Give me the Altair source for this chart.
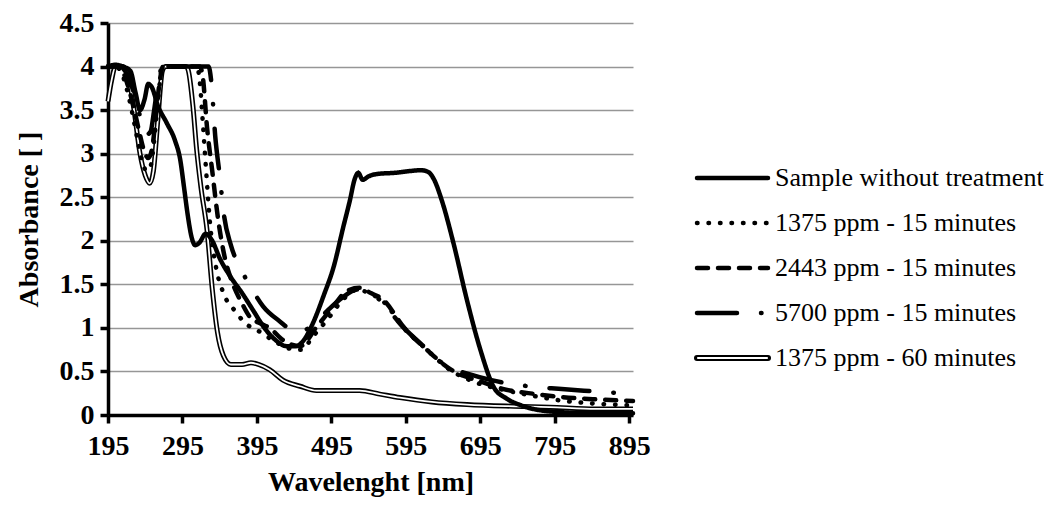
import altair as alt
import pandas as pd

series_names = [
    "Sample without treatment",
    "1375 ppm - 15 minutes",
    "2443 ppm - 15 minutes",
    "5700 ppm - 15 minutes",
    "1375 ppm - 60 minutes",
]

x_ticks = [195, 295, 395, 495, 595, 695, 795, 895]
y_ticks = [0, 0.5, 1, 1.5, 2, 2.5, 3, 3.5, 4, 4.5]

# Sample without treatment
nm_untreated = [195, 205, 215, 225, 232, 238, 244, 249, 254, 262, 274, 285, 292, 297, 302, 307, 312, 318,
                326, 335, 345, 360, 375, 390, 405, 420, 435, 447, 458, 470, 485, 498, 511, 520, 526, 531,
                537, 545, 560, 580, 600, 615, 625, 633, 643, 659, 677, 695, 713, 730, 750, 790, 850, 900]
abs_untreated = [4.0, 4.02, 4.0, 3.95, 3.7, 3.5, 3.62, 3.8, 3.76, 3.55, 3.35, 3.15, 2.93, 2.62, 2.3, 2.05,
                 1.95, 1.98, 2.08, 2.0, 1.8, 1.58, 1.4, 1.2, 1.0, 0.86, 0.79, 0.79, 0.86, 1.05, 1.38, 1.7,
                 2.16, 2.47, 2.7, 2.78, 2.7, 2.74, 2.77, 2.78, 2.8, 2.81, 2.79, 2.7, 2.47, 1.97, 1.32, 0.75,
                 0.32, 0.19, 0.11, 0.04, 0.02, 0.02]

# 1375 ppm - 15 minutes
nm_1375_15 = [195, 205, 212, 220, 228, 236, 242, 247, 252, 257, 262, 267, 272, 290, 314, 318, 322, 326, 332,
              340, 350, 365, 380, 400, 420, 440, 455, 470, 490, 510, 530, 545, 565, 592, 623, 654, 690, 720,
              760, 800, 850, 900]
abs_1375_15 = [4.0, 4.0, 3.95, 3.75, 3.45, 3.1, 2.88, 2.8, 2.85, 3.15, 3.6, 3.95, 4.0, 4.0, 4.0, 3.85, 3.4,
               2.9, 2.2, 1.7, 1.4, 1.2, 1.05, 0.95, 0.84, 0.76, 0.75, 0.9, 1.1, 1.32, 1.44, 1.4, 1.3, 1.0,
               0.75, 0.52, 0.37, 0.3, 0.23, 0.17, 0.13, 0.11]

# 2443 ppm - 15 minutes
nm_2443_15 = [195, 205, 213, 221, 229, 237, 244, 249, 254, 259, 264, 269, 274, 300, 318, 322, 328, 335, 343,
              352, 362, 375, 386, 400, 412, 430, 453, 475, 497, 515, 533, 548, 565, 592, 623, 654, 672, 690,
              725, 770, 800, 850, 900]
abs_2443_15 = [4.0, 4.0, 3.97, 3.8, 3.55, 3.25, 3.02, 2.95, 3.05, 3.4, 3.8, 4.0, 4.0, 4.0, 4.0, 3.9, 3.3, 2.8,
               2.24, 1.8, 1.52, 1.28, 1.12, 1.05, 1.0, 0.86, 0.79, 1.01, 1.24, 1.42, 1.46, 1.4, 1.32, 1.01,
               0.75, 0.53, 0.45, 0.4, 0.3, 0.24, 0.21, 0.18, 0.16]

# 5700 ppm - 15 minutes
nm_5700_15 = [195, 210, 218, 226, 234, 241, 247, 252, 257, 262, 267, 272, 300, 330, 334, 339, 345, 351, 360,
              375, 390, 403, 425, 449, 470, 490, 510, 530, 560, 590, 620, 650, 680, 710, 760, 800, 850, 900]
abs_5700_15 = [4.0, 4.0, 3.95, 3.8, 3.55, 3.35, 3.22, 3.25, 3.5, 3.8, 3.98, 4.0, 4.0, 4.0, 3.8, 3.2, 2.75,
               2.28, 1.95, 1.65, 1.42, 1.25, 1.08, 0.95, 1.03, 1.2, 1.35, 1.44, 1.32, 1.02, 0.78, 0.56, 0.47,
               0.4, 0.33, 0.3, 0.27, 0.24]

# 1375 ppm - 60 minutes
nm_1375_60 = [195, 200, 205, 215, 222, 230, 238, 245, 251, 256, 262, 268, 272, 300, 303, 309, 314, 320, 328,
              335, 342, 350, 360, 375, 387, 397, 412, 430, 453, 475, 500, 533, 560, 587, 630, 677, 740, 788,
              850, 900]
abs_1375_60 = [3.6, 3.85, 4.0, 4.0, 3.9, 3.5, 3.0, 2.75, 2.66, 2.8, 3.4, 3.95, 4.0, 4.0, 3.95, 3.55, 3.05,
               2.6, 2.12, 1.45, 0.95, 0.68, 0.58, 0.58, 0.6, 0.58, 0.52, 0.4, 0.33, 0.28, 0.28, 0.28, 0.24,
               0.2, 0.15, 0.12, 0.1, 0.09, 0.07, 0.07]

all_series = [
    (series_names[0], nm_untreated, abs_untreated),
    (series_names[1], nm_1375_15, abs_1375_15),
    (series_names[2], nm_2443_15, abs_2443_15),
    (series_names[3], nm_5700_15, abs_5700_15),
    (series_names[4], nm_1375_60, abs_1375_60),
]
rows = []
for name, xs, ys in all_series:
    for xv, yv in zip(xs, ys):
        rows.append({"series": name, "nm": xv, "abs": yv})
df = pd.DataFrame(rows)
legend_df = pd.DataFrame({"series": series_names})

FONT = "Liberation Serif"
dash_scale = alt.Scale(
    domain=series_names,
    range=[[1, 0], [0.5, 11], [11, 10], [40, 24, 0.5, 24], [1, 0]],
)

x_enc = alt.X(
    "nm:Q",
    scale=alt.Scale(domain=[195, 900], nice=False, zero=False),
    axis=alt.Axis(values=x_ticks, format="d", grid=False, labelFlush=False,
                  labelOverlap=False, labelPadding=9, titlePadding=8),
    title="Wavelenght [nm]",
)
y_enc = alt.Y(
    "abs:Q",
    scale=alt.Scale(domain=[0, 4.5], nice=False),
    axis=alt.Axis(values=y_ticks, format=".1~f", grid=True, gridColor="#969696",
                  gridWidth=1.3, labelPadding=6, titlePadding=16),
    title="Absorbance [ ]",
)

base = alt.Chart(df)
others = base.transform_filter(alt.datum.series != series_names[4])
sixty = base.transform_filter(alt.datum.series == series_names[4])

lines = others.mark_line(color="black", strokeWidth=4.5, strokeCap="round",
                         strokeJoin="round", interpolate="monotone").encode(
    x=x_enc, y=y_enc,
    strokeDash=alt.StrokeDash("series:N", scale=dash_scale, legend=None),
    detail="series:N",
)
sixty_outer = sixty.mark_line(color="black", strokeWidth=5, interpolate="monotone").encode(x=x_enc, y=y_enc)
sixty_inner = sixty.mark_line(color="white", strokeWidth=1.8, interpolate="monotone").encode(x=x_enc, y=y_enc)

data_layer = alt.layer(sixty_outer, sixty_inner, lines)

leg_y = alt.Y(
    "series:N",
    scale=alt.Scale(type="point", domain=series_names, range=[155, 335], padding=0),
    axis=None,
)
leg_base = alt.Chart(legend_df)
leg_rules = leg_base.transform_filter(alt.datum.series != series_names[4]).mark_rule(
    color="black", strokeWidth=4.5, strokeCap="round").encode(
    x=alt.value(589), x2=alt.value(660), y=leg_y,
    strokeDash=alt.StrokeDash("series:N", scale=dash_scale, legend=None),
)
leg_sixty_outer = leg_base.transform_filter(alt.datum.series == series_names[4]).mark_rule(
    color="black", strokeWidth=6, strokeCap="round").encode(
    x=alt.value(589), x2=alt.value(660), y=leg_y)
leg_sixty_inner = leg_base.transform_filter(alt.datum.series == series_names[4]).mark_rule(
    color="white", strokeWidth=2.2, strokeCap="round").encode(
    x=alt.value(590), x2=alt.value(659), y=leg_y)
leg_text = leg_base.mark_text(align="left", baseline="middle", font=FONT, fontSize=26,
                              color="black").encode(
    x=alt.value(667), y=leg_y, text="series:N")

legend_layer = alt.layer(leg_rules, leg_sixty_outer, leg_sixty_inner, leg_text)

chart = alt.layer(data_layer, legend_layer).resolve_scale(y="independent").properties(
    width=525, height=392,
    autosize=alt.AutoSizeParams(type="none"),
    padding={"left": 100, "top": 15, "right": 411, "bottom": 83},
    background="white",
).configure_axis(
    labelFont=FONT, labelFontSize=28, labelFontWeight="bold", labelColor="black",
    titleFont=FONT, titleFontSize=28, titleFontWeight="bold", titleColor="black",
    domainColor="black", domainWidth=3.5, tickColor="black", tickWidth=3.5, tickSize=8,
).configure_view(stroke=None)

chart.save("out.html", embed_options={"renderer": "svg", "actions": False})
